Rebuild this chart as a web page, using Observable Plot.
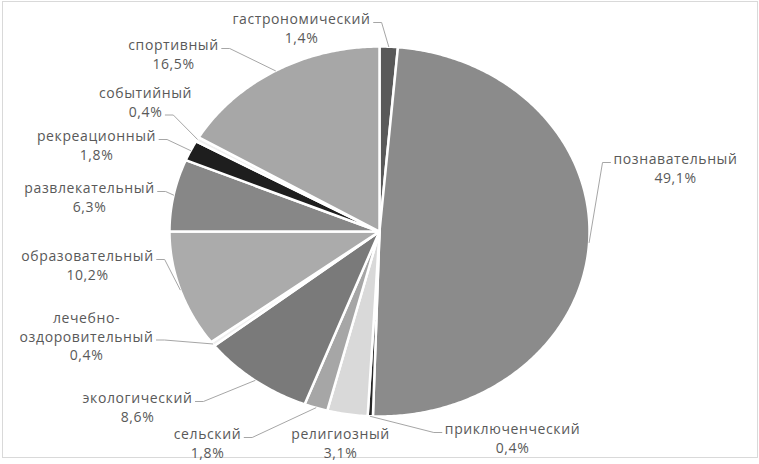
<!DOCTYPE html>
<html><head><meta charset="utf-8">
<script src="https://cdn.jsdelivr.net/npm/d3@7"></script>
<script src="https://cdn.jsdelivr.net/npm/@observablehq/plot@0.6"></script>
<style>body{margin:0;background:#fff}</style>
</head><body><div id="chart"></div>
<script>
// ---- data ----
const categories = ["гастрономический","познавательный","приключенческий","религиозный","сельский","экологический","лечебно-\nоздоровительный","образовательный","развлекательный","рекреационный","событийный","спортивный"];
const values = [1.4, 49.1, 0.4, 3.1, 1.8, 8.6, 0.4, 10.2, 6.3, 1.8, 0.4, 16.5];
const valueLabels = ["1,4%","49,1%","0,4%","3,1%","1,8%","8,6%","0,4%","10,2%","6,3%","1,8%","0,4%","16,5%"];

// ---- styles / layout ----
const colors = ["#595959","#8b8b8b","#262626","#d9d9d9","#a6a6a6","#7a7a7a","#f0f0f0","#ababab","#878787","#1e1e1e","#f0f0f0","#a7a7a7"];
// label centre x, first-line y, line the leader attaches to
const labelPos = [[301,18,0],[675,158,0],[512,428,0],[340,433,0],[207,433,0],[137,397,0],[86,317,1],[87,255,0],[89,187,0],[96,135,0],[145,92,1],[173,44,0]];

const W = 759, H = 464, cx = 379, cy = 231, rx = 210, ry = 185;
const fontSize = 14, lineH = 18.5, ls = 0.6, font = "'Open Sans', sans-serif";

const total = d3.sum(values);
const pt = (a, k = 1) => [cx + k * rx * Math.sin(a), cy - k * ry * Math.cos(a)];

let acc = 0;
const slices = values.map((v, i) => {
  const a0 = acc / total * 2 * Math.PI; acc += v;
  const a1 = acc / total * 2 * Math.PI;
  const n = Math.max(2, Math.ceil((a1 - a0) / 0.01));
  const pts = [[cx, cy]];
  for (let j = 0; j <= n; j++) pts.push(pt(a0 + (a1 - a0) * j / n));
  pts.push([cx, cy]);
  return {i, a0, a1, mid: (a0 + a1) / 2, pts};
});

const ctx = document.createElement("canvas").getContext("2d");
ctx.font = `${fontSize}px ${font}`;
try { ctx.letterSpacing = ls + "px"; } catch (e) {}

const labels = categories.map((c, i) => {
  const lines = (c + "\n" + valueLabels[i]).split("\n");
  const [lx, ly, at] = labelPos[i];
  const w = d3.max(lines, s => ctx.measureText(s).width);
  const wa = ctx.measureText(lines[at]).width;
  return {i, text: lines.join("\n"), x: lx, y: ly + (lines.length - 1) * lineH / 2, lines, w, wa, at, lx, ly};
});

const leaders = [];
labels.forEach(l => {
  const [sx, sy] = pt(slices[l.i].mid);
  const left = l.lx - l.w / 2, right = l.lx + l.w / 2;
  if (sx >= left && sx <= right) return;
  const ay = l.ly + l.at * lineH + 4;
  const side = sx > right ? 1 : -1;
  const ax = side > 0 ? l.lx + l.wa / 2 + 3 : l.lx - l.wa / 2 - 3;
  leaders.push({k: l.i, x: ax, y: ay}, {k: l.i, x: ax + side * 8, y: ay}, {k: l.i, x: sx, y: sy});
});

const marks = [
  Plot.frame({stroke: "#d9d9d9", insetLeft: 2, insetTop: 1, insetRight: 2, insetBottom: 7}),
  ...slices.map(s => Plot.line(s.pts, {x: d => d[0], y: d => d[1], fill: colors[s.i], stroke: "white", strokeWidth: 2.5, strokeLinejoin: "round"})),
  Plot.line(leaders, {x: "x", y: "y", z: "k", stroke: "#a6a6a6", strokeWidth: 1}),
  Plot.text(labels, {x: "x", y: "y", text: "text", fill: "#595959", fontSize, lineHeight: lineH / fontSize, textAnchor: "middle", lineAnchor: "middle"})
];

const chart = Plot.plot({
  width: W, height: H, margin: 0,
  x: {domain: [0, W], range: [0, W], axis: null},
  y: {domain: [0, H], range: [0, H], axis: null},
  style: {fontFamily: font, letterSpacing: ls + "px", background: "white"},
  marks
});
document.getElementById("chart").appendChild(chart);
</script></body></html>
